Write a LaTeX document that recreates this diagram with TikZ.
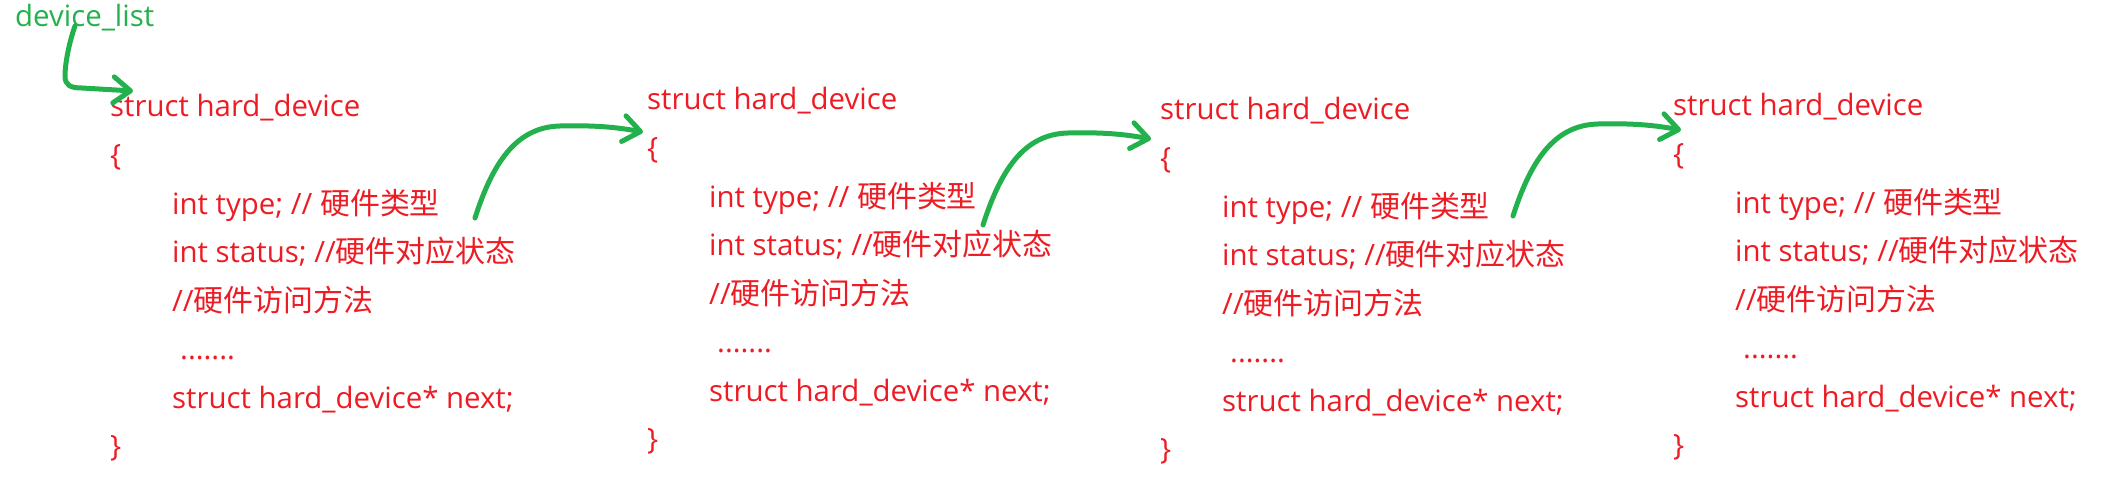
\documentclass[tikz,border=0pt]{standalone}
\usepackage{fontspec}
\setmainfont{Open Sans}[Scale=1.05]
\newfontfamily\cjk{Noto Sans CJK SC}[Scale=1.07]
\usetikzlibrary{arrows.meta}
\definecolor{codered}{HTML}{ED1C24}
\definecolor{pengreen}{HTML}{22B14C}

\begin{document}
\begin{tikzpicture}[x=1pt,y=-1pt,
  code/.style={text=codered,anchor=base west,inner sep=0pt,font=\fontsize{28}{28}\selectfont},
  link/.style={draw=pengreen,line width=5pt,line cap=round,line join=round,-{Straight Barb[length=17pt,width=26pt,round]}}]
\useasboundingbox (0,0) rectangle (2111,492);
\node[code,text=pengreen] (list) at (15,27) {device\_list};
\node[code] (title1) at (110,117) {struct hard\_device};
\node[code] (open1) at (110,165.5) {\{};
\node[code] (type1) at (172,214) {int type; // {\cjk 硬件类型}};
\node[code] (status1) at (172,262.5) {int status; //{\cjk 硬件对应状态}};
\node[code] (access1) at (172,311) {//{\cjk 硬件访问方法}};
\node[code] (dots1) at (180,359.5) {.......};
\node[code] (next1) at (172,408) {struct hard\_device* next;};
\node[code] (close1) at (110,456.5) {\}};
\node[code] (title2) at (647,110) {struct hard\_device};
\node[code] (open2) at (647,158.5) {\{};
\node[code] (type2) at (709,207) {int type; // {\cjk 硬件类型}};
\node[code] (status2) at (709,255.5) {int status; //{\cjk 硬件对应状态}};
\node[code] (access2) at (709,304) {//{\cjk 硬件访问方法}};
\node[code] (dots2) at (717,352.5) {.......};
\node[code] (next2) at (709,401) {struct hard\_device* next;};
\node[code] (close2) at (647,449.5) {\}};
\node[code] (title3) at (1160,120) {struct hard\_device};
\node[code] (open3) at (1160,168.5) {\{};
\node[code] (type3) at (1222,217) {int type; // {\cjk 硬件类型}};
\node[code] (status3) at (1222,265.5) {int status; //{\cjk 硬件对应状态}};
\node[code] (access3) at (1222,314) {//{\cjk 硬件访问方法}};
\node[code] (dots3) at (1230,362.5) {.......};
\node[code] (next3) at (1222,411) {struct hard\_device* next;};
\node[code] (close3) at (1160,459.5) {\}};
\node[code] (title4) at (1673,116) {struct hard\_device};
\node[code] (open4) at (1673,164.5) {\{};
\node[code] (type4) at (1735,213) {int type; // {\cjk 硬件类型}};
\node[code] (status4) at (1735,261.5) {int status; //{\cjk 硬件对应状态}};
\node[code] (access4) at (1735,310) {//{\cjk 硬件访问方法}};
\node[code] (dots4) at (1743,358.5) {.......};
\node[code] (next4) at (1735,407) {struct hard\_device* next;};
\node[code] (close4) at (1673,455.5) {\}};
\coordinate (from0) at (75,26);
\coordinate (to1) at (133,91);
\coordinate (from1) at (475,218);
\coordinate (to2) at (643,132);
\coordinate (from2) at (983,225);
\coordinate (to3) at (1151,139);
\coordinate (from3) at (1513,216);
\coordinate (to4) at (1681,130);
\draw[link] (from0) .. controls +(-7,20) and +(0,-10) .. (65,76) .. controls +(0,9) and +(-12,0) .. (82,88) -- (to1);
\draw[link] (from1) .. controls +(17,-53) and +(-45,1) .. ++(85,-92) .. controls +(40,-1) and +(-23,-4) .. (to2);
\draw[link] (from2) .. controls +(17,-53) and +(-45,1) .. ++(85,-92) .. controls +(40,-1) and +(-23,-4) .. (to3);
\draw[link] (from3) .. controls +(17,-53) and +(-45,1) .. ++(85,-92) .. controls +(40,-1) and +(-23,-4) .. (to4);
\end{tikzpicture}
\end{document}
